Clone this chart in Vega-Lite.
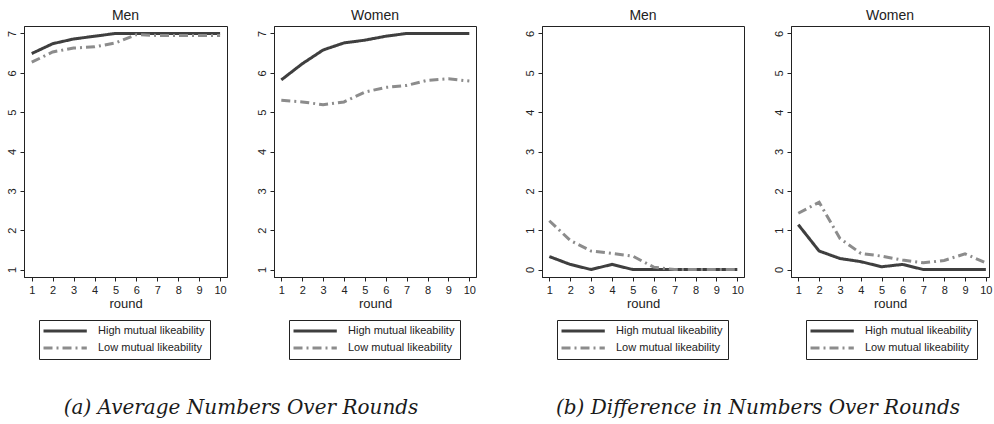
{
  "$schema": "https://vega.github.io/schema/vega-lite/v6.json",
  "background": "white",
  "padding": {"left": 5, "top": 8, "right": 2, "bottom": 2},
  "datasets": {
    "d": [
      {"fig":"a","sex":"Men","round":1,"series":"High mutual likeability","value":6.49},
      {"fig":"a","sex":"Men","round":2,"series":"High mutual likeability","value":6.74},
      {"fig":"a","sex":"Men","round":3,"series":"High mutual likeability","value":6.86},
      {"fig":"a","sex":"Men","round":4,"series":"High mutual likeability","value":6.93},
      {"fig":"a","sex":"Men","round":5,"series":"High mutual likeability","value":7.0},
      {"fig":"a","sex":"Men","round":6,"series":"High mutual likeability","value":7.0},
      {"fig":"a","sex":"Men","round":7,"series":"High mutual likeability","value":7.0},
      {"fig":"a","sex":"Men","round":8,"series":"High mutual likeability","value":7.0},
      {"fig":"a","sex":"Men","round":9,"series":"High mutual likeability","value":7.0},
      {"fig":"a","sex":"Men","round":10,"series":"High mutual likeability","value":7.0},
      {"fig":"a","sex":"Men","round":1,"series":"Low mutual likeability","value":6.27},
      {"fig":"a","sex":"Men","round":2,"series":"Low mutual likeability","value":6.53},
      {"fig":"a","sex":"Men","round":3,"series":"Low mutual likeability","value":6.63},
      {"fig":"a","sex":"Men","round":4,"series":"Low mutual likeability","value":6.66},
      {"fig":"a","sex":"Men","round":5,"series":"Low mutual likeability","value":6.76},
      {"fig":"a","sex":"Men","round":6,"series":"Low mutual likeability","value":6.97},
      {"fig":"a","sex":"Men","round":7,"series":"Low mutual likeability","value":6.95},
      {"fig":"a","sex":"Men","round":8,"series":"Low mutual likeability","value":6.95},
      {"fig":"a","sex":"Men","round":9,"series":"Low mutual likeability","value":6.95},
      {"fig":"a","sex":"Men","round":10,"series":"Low mutual likeability","value":6.95},
      {"fig":"a","sex":"Women","round":1,"series":"High mutual likeability","value":5.82},
      {"fig":"a","sex":"Women","round":2,"series":"High mutual likeability","value":6.23},
      {"fig":"a","sex":"Women","round":3,"series":"High mutual likeability","value":6.58},
      {"fig":"a","sex":"Women","round":4,"series":"High mutual likeability","value":6.76},
      {"fig":"a","sex":"Women","round":5,"series":"High mutual likeability","value":6.83},
      {"fig":"a","sex":"Women","round":6,"series":"High mutual likeability","value":6.93},
      {"fig":"a","sex":"Women","round":7,"series":"High mutual likeability","value":7.0},
      {"fig":"a","sex":"Women","round":8,"series":"High mutual likeability","value":7.0},
      {"fig":"a","sex":"Women","round":9,"series":"High mutual likeability","value":7.0},
      {"fig":"a","sex":"Women","round":10,"series":"High mutual likeability","value":7.0},
      {"fig":"a","sex":"Women","round":1,"series":"Low mutual likeability","value":5.30},
      {"fig":"a","sex":"Women","round":2,"series":"Low mutual likeability","value":5.26},
      {"fig":"a","sex":"Women","round":3,"series":"Low mutual likeability","value":5.19},
      {"fig":"a","sex":"Women","round":4,"series":"Low mutual likeability","value":5.26},
      {"fig":"a","sex":"Women","round":5,"series":"Low mutual likeability","value":5.51},
      {"fig":"a","sex":"Women","round":6,"series":"Low mutual likeability","value":5.63},
      {"fig":"a","sex":"Women","round":7,"series":"Low mutual likeability","value":5.68},
      {"fig":"a","sex":"Women","round":8,"series":"Low mutual likeability","value":5.81},
      {"fig":"a","sex":"Women","round":9,"series":"Low mutual likeability","value":5.85},
      {"fig":"a","sex":"Women","round":10,"series":"Low mutual likeability","value":5.79},
      {"fig":"b","sex":"Men","round":1,"series":"High mutual likeability","value":0.33},
      {"fig":"b","sex":"Men","round":2,"series":"High mutual likeability","value":0.13},
      {"fig":"b","sex":"Men","round":3,"series":"High mutual likeability","value":0.0},
      {"fig":"b","sex":"Men","round":4,"series":"High mutual likeability","value":0.13},
      {"fig":"b","sex":"Men","round":5,"series":"High mutual likeability","value":0.0},
      {"fig":"b","sex":"Men","round":6,"series":"High mutual likeability","value":0.0},
      {"fig":"b","sex":"Men","round":7,"series":"High mutual likeability","value":0.0},
      {"fig":"b","sex":"Men","round":8,"series":"High mutual likeability","value":0.0},
      {"fig":"b","sex":"Men","round":9,"series":"High mutual likeability","value":0.0},
      {"fig":"b","sex":"Men","round":10,"series":"High mutual likeability","value":0.0},
      {"fig":"b","sex":"Men","round":1,"series":"Low mutual likeability","value":1.24},
      {"fig":"b","sex":"Men","round":2,"series":"Low mutual likeability","value":0.74},
      {"fig":"b","sex":"Men","round":3,"series":"Low mutual likeability","value":0.47},
      {"fig":"b","sex":"Men","round":4,"series":"Low mutual likeability","value":0.41},
      {"fig":"b","sex":"Men","round":5,"series":"Low mutual likeability","value":0.34},
      {"fig":"b","sex":"Men","round":6,"series":"Low mutual likeability","value":0.06},
      {"fig":"b","sex":"Men","round":7,"series":"Low mutual likeability","value":0.0},
      {"fig":"b","sex":"Men","round":8,"series":"Low mutual likeability","value":0.0},
      {"fig":"b","sex":"Men","round":9,"series":"Low mutual likeability","value":0.0},
      {"fig":"b","sex":"Men","round":10,"series":"Low mutual likeability","value":0.0},
      {"fig":"b","sex":"Women","round":1,"series":"High mutual likeability","value":1.14},
      {"fig":"b","sex":"Women","round":2,"series":"High mutual likeability","value":0.47},
      {"fig":"b","sex":"Women","round":3,"series":"High mutual likeability","value":0.28},
      {"fig":"b","sex":"Women","round":4,"series":"High mutual likeability","value":0.20},
      {"fig":"b","sex":"Women","round":5,"series":"High mutual likeability","value":0.07},
      {"fig":"b","sex":"Women","round":6,"series":"High mutual likeability","value":0.13},
      {"fig":"b","sex":"Women","round":7,"series":"High mutual likeability","value":0.0},
      {"fig":"b","sex":"Women","round":8,"series":"High mutual likeability","value":0.0},
      {"fig":"b","sex":"Women","round":9,"series":"High mutual likeability","value":0.0},
      {"fig":"b","sex":"Women","round":10,"series":"High mutual likeability","value":0.0},
      {"fig":"b","sex":"Women","round":1,"series":"Low mutual likeability","value":1.43},
      {"fig":"b","sex":"Women","round":2,"series":"Low mutual likeability","value":1.71},
      {"fig":"b","sex":"Women","round":3,"series":"Low mutual likeability","value":0.79},
      {"fig":"b","sex":"Women","round":4,"series":"Low mutual likeability","value":0.41},
      {"fig":"b","sex":"Women","round":5,"series":"Low mutual likeability","value":0.34},
      {"fig":"b","sex":"Women","round":6,"series":"Low mutual likeability","value":0.24},
      {"fig":"b","sex":"Women","round":7,"series":"Low mutual likeability","value":0.17},
      {"fig":"b","sex":"Women","round":8,"series":"Low mutual likeability","value":0.23},
      {"fig":"b","sex":"Women","round":9,"series":"Low mutual likeability","value":0.40},
      {"fig":"b","sex":"Women","round":10,"series":"Low mutual likeability","value":0.17}
    ]
  },
  "config": {
    "font": "Liberation Sans",
    "view": {"stroke": "#222222", "strokeWidth": 1},
    "axis": {
      "grid": false, "domainColor": "#222222", "tickColor": "#222222", "labelColor": "#222222",
      "titleColor": "#222222", "labelFontSize": 11, "titleFontSize": 13, "titleFontWeight": "normal",
      "tickSize": 4, "labelPadding": 3, "titlePadding": 2
    },
    "title": {"fontSize": 14, "fontWeight": "normal", "color": "#222222", "offset": 3},
    "legend": {
      "orient": "none", "legendX": 15, "legendY": 294, "direction": "vertical",
      "strokeColor": "#222222", "padding": 5, "labelFontSize": 11, "labelColor": "#222222",
      "symbolType": "M-1.5,0H8.5", "symbolSize": 75, "symbolStrokeWidth": 3, "rowPadding": 5,
      "labelOffset": 42
    }
  },
  "spacing": 46,
  "resolve": {"scale": {"color": "independent", "strokeDash": "independent"}, "legend": {"color": "independent", "strokeDash": "independent"}},
  "hconcat": [
    {
      "title": {"text": "(a) Average Numbers Over Rounds", "orient": "bottom", "anchor": "middle", "font": "DejaVu Serif", "fontStyle": "italic", "fontWeight": "normal", "fontSize": 20, "offset": 38, "color": "#1a1a1a"},
      "spacing": 27,
      "resolve": {"scale": {"color": "independent", "strokeDash": "independent"}, "legend": {"color": "independent", "strokeDash": "independent"}},
      "hconcat": [
        {
          "title": "Men", "width": 203, "height": 251,
          "data": {"name": "d"},
          "transform": [{"filter": "datum.fig == 'a' && datum.sex == 'Men'"}],
          "mark": {"type": "line", "strokeWidth": 3},
          "encoding": {
            "x": {"field": "round", "type": "quantitative", "scale": {"domain": [0.63, 10.33], "nice": false, "zero": false}, "axis": {"values": [1,2,3,4,5,6,7,8,9,10], "title": "round", "labelAngle": 0}},
            "y": {"field": "value", "type": "quantitative", "scale": {"domain": [0.81, 7.19], "nice": false, "zero": false}, "axis": {"values": [1,2,3,4,5,6,7], "title": null, "labelAngle": -90, "labelAlign": "center", "labelBaseline": "bottom"}},
            "color": {"field": "series", "type": "nominal", "scale": {"domain": ["High mutual likeability", "Low mutual likeability"], "range": ["#3f3f3f", "#8c8c8c"]}, "legend": {"title": null}},
            "strokeDash": {"field": "series", "type": "nominal", "scale": {"domain": ["High mutual likeability", "Low mutual likeability"], "range": [[1, 0], [9, 4, 2, 4]]}, "legend": {"title": null}}
          }
        },
        {
          "title": "Women", "width": 202, "height": 251,
          "data": {"name": "d"},
          "transform": [{"filter": "datum.fig == 'a' && datum.sex == 'Women'"}],
          "mark": {"type": "line", "strokeWidth": 3},
          "encoding": {
            "x": {"field": "round", "type": "quantitative", "scale": {"domain": [0.65, 10.32], "nice": false, "zero": false}, "axis": {"values": [1,2,3,4,5,6,7,8,9,10], "title": "round", "labelAngle": 0}},
            "y": {"field": "value", "type": "quantitative", "scale": {"domain": [0.81, 7.19], "nice": false, "zero": false}, "axis": {"values": [1,2,3,4,5,6,7], "title": null, "labelAngle": -90, "labelAlign": "center", "labelBaseline": "bottom"}},
            "color": {"field": "series", "type": "nominal", "scale": {"domain": ["High mutual likeability", "Low mutual likeability"], "range": ["#3f3f3f", "#8c8c8c"]}, "legend": {"title": null}},
            "strokeDash": {"field": "series", "type": "nominal", "scale": {"domain": ["High mutual likeability", "Low mutual likeability"], "range": [[1, 0], [9, 4, 2, 4]]}, "legend": {"title": null}}
          }
        }
      ]
    },
    {
      "title": {"text": "(b) Difference in Numbers Over Rounds", "orient": "bottom", "anchor": "middle", "font": "DejaVu Serif", "fontStyle": "italic", "fontWeight": "normal", "fontSize": 20, "offset": 38, "color": "#1a1a1a"},
      "spacing": 27,
      "resolve": {"scale": {"color": "independent", "strokeDash": "independent"}, "legend": {"color": "independent", "strokeDash": "independent"}},
      "hconcat": [
        {
          "title": "Men", "width": 202, "height": 251,
          "data": {"name": "d"},
          "transform": [{"filter": "datum.fig == 'b' && datum.sex == 'Men'"}],
          "mark": {"type": "line", "strokeWidth": 3},
          "encoding": {
            "x": {"field": "round", "type": "quantitative", "scale": {"domain": [0.65, 10.32], "nice": false, "zero": false}, "axis": {"values": [1,2,3,4,5,6,7,8,9,10], "title": "round", "labelAngle": 0}},
            "y": {"field": "value", "type": "quantitative", "scale": {"domain": [-0.19, 6.19], "nice": false, "zero": false}, "axis": {"values": [0,1,2,3,4,5,6], "title": null, "labelAngle": -90, "labelAlign": "center", "labelBaseline": "bottom"}},
            "color": {"field": "series", "type": "nominal", "scale": {"domain": ["High mutual likeability", "Low mutual likeability"], "range": ["#3f3f3f", "#8c8c8c"]}, "legend": {"title": null}},
            "strokeDash": {"field": "series", "type": "nominal", "scale": {"domain": ["High mutual likeability", "Low mutual likeability"], "range": [[1, 0], [9, 4, 2, 4]]}, "legend": {"title": null}}
          }
        },
        {
          "title": "Women", "width": 198, "height": 251,
          "data": {"name": "d"},
          "transform": [{"filter": "datum.fig == 'b' && datum.sex == 'Women'"}],
          "mark": {"type": "line", "strokeWidth": 3},
          "encoding": {
            "x": {"field": "round", "type": "quantitative", "scale": {"domain": [0.65, 10.15], "nice": false, "zero": false}, "axis": {"values": [1,2,3,4,5,6,7,8,9,10], "title": "round", "labelAngle": 0}},
            "y": {"field": "value", "type": "quantitative", "scale": {"domain": [-0.19, 6.19], "nice": false, "zero": false}, "axis": {"values": [0,1,2,3,4,5,6], "title": null, "labelAngle": -90, "labelAlign": "center", "labelBaseline": "bottom"}},
            "color": {"field": "series", "type": "nominal", "scale": {"domain": ["High mutual likeability", "Low mutual likeability"], "range": ["#3f3f3f", "#8c8c8c"]}, "legend": {"title": null}},
            "strokeDash": {"field": "series", "type": "nominal", "scale": {"domain": ["High mutual likeability", "Low mutual likeability"], "range": [[1, 0], [9, 4, 2, 4]]}, "legend": {"title": null}}
          }
        }
      ]
    }
  ]
}
